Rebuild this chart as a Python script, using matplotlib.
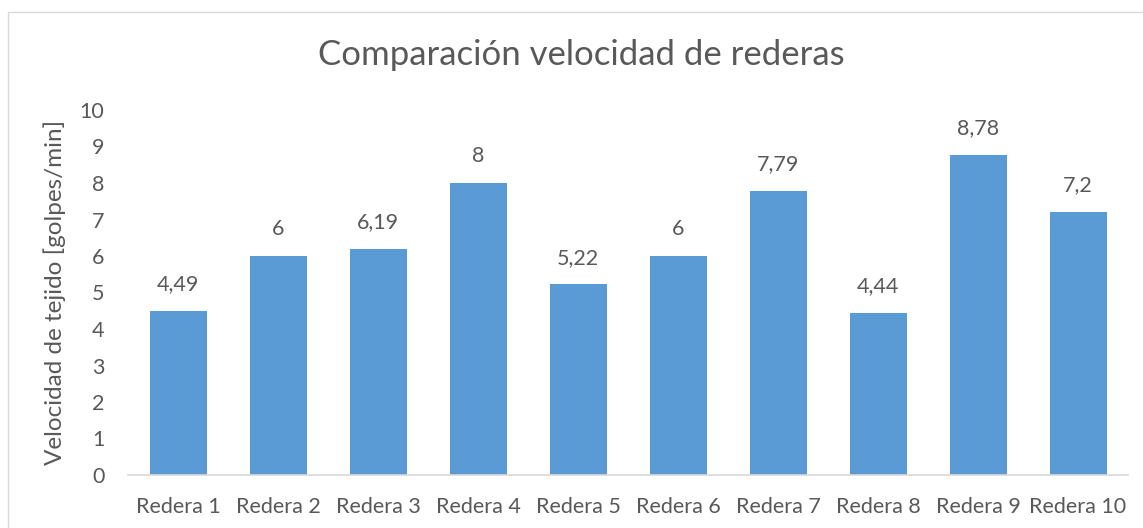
import matplotlib.pyplot as plt
from matplotlib.patches import Rectangle

rederas = ['Redera 1', 'Redera 2', 'Redera 3', 'Redera 4', 'Redera 5',
           'Redera 6', 'Redera 7', 'Redera 8', 'Redera 9', 'Redera 10']
velocidad = [4.49, 6, 6.19, 8, 5.22, 6, 7.79, 4.44, 8.78, 7.2]
etiquetas = ['4,49', '6', '6,19', '8', '5,22', '6', '7,79', '4,44', '8,78', '7,2']
yticks = list(range(0, 11))

plt.rcParams['font.family'] = ['Lato', 'DejaVu Sans']
gris = '#595959'

fig = plt.figure(figsize=(11.43, 5.28), dpi=100)
ax = fig.add_axes([128/1143, 1 - 475/528, 1000/1143, 365/528])

x = range(len(rederas))
ax.bar(x, velocidad, width=0.57, color='#5B9BD5')
for xi, v, lab in zip(x, velocidad, etiquetas):
    ax.annotate(lab, (xi, v), xytext=(0, 12), textcoords='offset points',
                ha='center', va='bottom', fontsize=15.5, color=gris)

ax.set_xlim(-0.5, len(rederas) - 0.5)
ax.set_ylim(0, 10)
ax.set_yticks(yticks)
ax.set_xticks(list(x))
ax.set_xticklabels(rederas)
ax.tick_params(axis='both', length=0, labelsize=15.5, colors=gris)
ax.tick_params(axis='x', pad=16)
ax.tick_params(axis='y', pad=17)
for s in ['top', 'right', 'left']:
    ax.spines[s].set_visible(False)
ax.spines['bottom'].set_color('#D9D9D9')
ax.spines['bottom'].set_linewidth(1.2)

ax.set_ylabel('Velocidad de tejido [golpes/min]', fontsize=17.5, color=gris, labelpad=10)
fig.text(581/1143, 1 - 55/528, 'Comparación velocidad de rederas',
         ha='center', va='center', fontsize=25, color=gris)

fig.patches.append(Rectangle((8/1143, -0.05), 1.2, 1 - 12/528 + 0.05,
                             transform=fig.transFigure, fill=False,
                             edgecolor='#D9D9D9', linewidth=1))

fig.savefig('out.png', dpi=100)
